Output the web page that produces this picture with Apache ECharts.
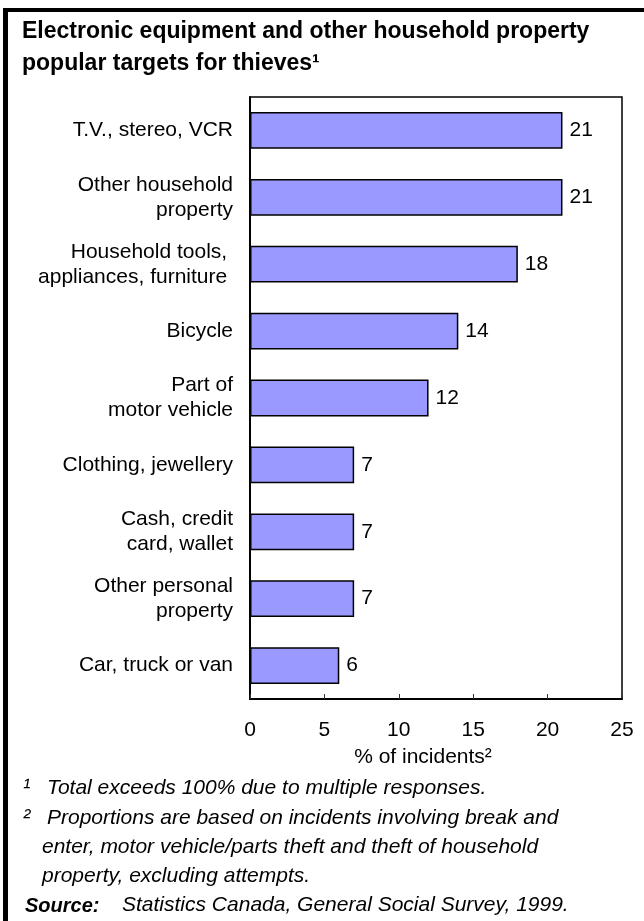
<!DOCTYPE html>
<html>
<head>
<meta charset="utf-8">
<script src="https://cdn.jsdelivr.net/npm/echarts@6/dist/echarts.min.js"></script>
<style>
  html, body { margin: 0; padding: 0; background: #fff; }
  #chart { width: 644px; height: 921px; }
</style>
</head>
<body>
<div id="chart"></div>
<script>
// Stolen items, share of incidents (%)
const categories = [
  'T.V., stereo, VCR',
  'Other household\nproperty',
  'Household tools, \nappliances, furniture ',
  'Bicycle',
  'Part of\nmotor vehicle',
  'Clothing, jewellery',
  'Cash, credit\ncard, wallet',
  'Other personal\nproperty',
  'Car, truck or van'
];
const values = [21, 21, 18, 14, 12, 7, 7, 7, 6];
const xTicks = [0, 5, 10, 15, 20, 25];

const titleText = 'Electronic equipment and other household property\npopular targets for thieves\u00B9';
const axisTitle = '% of incidents\u00B2';
const notes = [
  { mark: '\u00B9', lines: ['Total exceeds 100% due to multiple responses.'] },
  { mark: '\u00B2', lines: [
    'Proportions are based on incidents involving break and',
    'enter, motor vehicle/parts theft and theft of household',
    'property, excluding attempts.'
  ] }
];
const sourceLabel = 'Source:';
const sourceText = 'Statistics Canada, General Social Survey, 1999.';

const FONT = '"Liberation Sans", Arial, Helvetica, sans-serif';
const noteRows = [788, 818, 847, 876];

// Footnote text elements
const noteGraphics = [];
let row = 0;
notes.forEach(n => {
  noteGraphics.push({
    type: 'text', x: 23, y: noteRows[row],
    style: { text: n.mark, font: 'italic 22px ' + FONT, fill: '#000', verticalAlign: 'middle' }
  });
  n.lines.forEach((line, i) => {
    noteGraphics.push({
      type: 'text', x: i === 0 ? 47 : 42, y: noteRows[row],
      style: { text: line, font: 'italic 21px ' + FONT, fill: '#000', verticalAlign: 'middle' }
    });
    row++;
  });
});
noteGraphics.push({
  type: 'text', x: 25, y: 906,
  style: { text: sourceLabel, font: 'italic bold 20px ' + FONT, fill: '#000', verticalAlign: 'middle' }
});
noteGraphics.push({
  type: 'text', x: 122, y: 905,
  style: { text: sourceText, font: 'italic 21px ' + FONT, fill: '#000', verticalAlign: 'middle' }
});

const chart = echarts.init(document.getElementById('chart'), null, { renderer: 'canvas' });
chart.setOption({
  animation: false,
  backgroundColor: '#fff',
  title: {
    text: titleText,
    left: 17, top: 11,
    textStyle: { fontFamily: FONT, fontSize: 23, fontWeight: 'bold', color: '#000', lineHeight: 32 }
  },
  grid: {
    left: 250, right: 22, top: 97, bottom: 222,
    show: true, borderColor: '#000', borderWidth: 1.5, backgroundColor: 'transparent'
  },
  xAxis: {
    type: 'value',
    min: 0, max: 25, interval: 5,
    axisLine: { show: true, lineStyle: { color: '#000', width: 2 } },
    axisTick: { show: true, inside: true, length: 5, lineStyle: { color: '#333', width: 1 } },
    splitLine: { show: false },
    axisLabel: {
      margin: 21, fontFamily: FONT, fontSize: 21, color: '#000',
      customValues: xTicks, formatter: v => String(v)
    }
  },
  yAxis: {
    type: 'category',
    data: categories,
    inverse: true,
    axisLine: { show: true, lineStyle: { color: '#000', width: 2 } },
    axisTick: { show: false },
    axisLabel: {
      margin: 17, fontFamily: FONT, fontSize: 21, color: '#000',
      lineHeight: 25, align: 'right'
    }
  },
  series: [{
    type: 'bar',
    data: values,
    barCategoryGap: '45%',
    itemStyle: { color: '#9999FF', borderColor: '#000', borderWidth: 1.5 },
    label: {
      show: true, position: 'right', distance: 7,
      fontFamily: FONT, fontSize: 21, color: '#000'
    }
  }],
  graphic: [
    // frame around the figure
    { type: 'rect', shape: { x: 3, y: 8, width: 641, height: 4 }, style: { fill: '#000' } },
    { type: 'rect', shape: { x: 3, y: 8, width: 5, height: 913 }, style: { fill: '#000' } },
    {
      type: 'text', x: 423, y: 757,
      style: { text: axisTitle, font: '21px ' + FONT, fill: '#000', align: 'center', verticalAlign: 'middle' }
    },
    ...noteGraphics
  ]
});
</script>
</body>
</html>
